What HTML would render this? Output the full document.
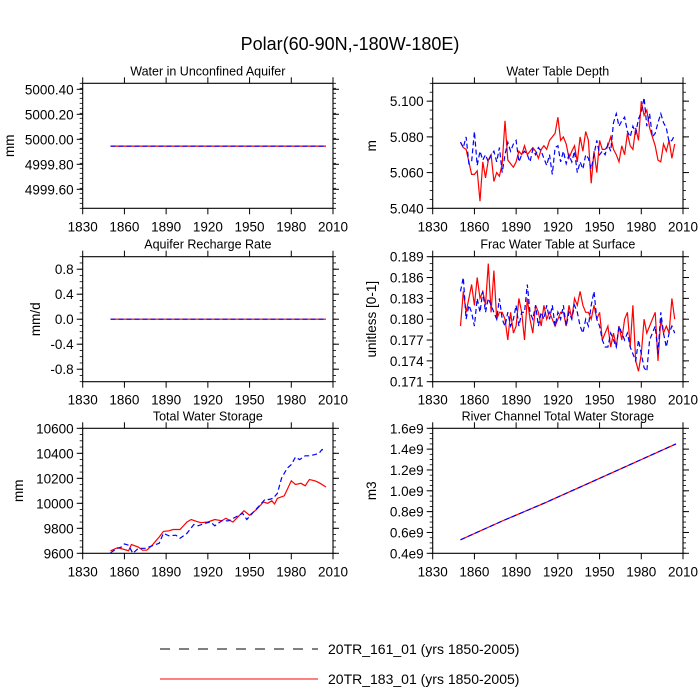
<!DOCTYPE html>
<html><head><meta charset="utf-8"><style>
body{margin:0;background:#fff}
svg{display:block;font-family:"Liberation Sans",sans-serif}
</style></head><body>
<svg id="c" width="700" height="700">
<text x="350" y="50" text-anchor="middle" font-size="18">Polar(60-90N,-180W-180E)</text>
<g>
<line x1="160" y1="649" x2="318" y2="649" stroke="#000" stroke-width="1" stroke-dasharray="10,9"/>
<text x="328" y="654" font-size="14">20TR_161_01 (yrs 1850-2005)</text>
<line x1="160" y1="679" x2="318" y2="679" stroke="#f00" stroke-width="1"/>
<text x="328" y="684" font-size="14">20TR_183_01 (yrs 1850-2005)</text>
</g>
</svg>
<script>
const yrs2 = [];for(let y=1850;y<=2004;y+=2)yrs2.push(y);
const xTicks=[1830,1860,1890,1920,1950,1980,2010];
const aquiferYears=[1850,2005];
const aquiferRed=[4999.946,4999.946];
const aquiferBlue=[4999.946,4999.946];
const rechargeYears=[1850,2005];
const rechargeRed=[0,0];
const rechargeBlue=[0,0];
const wtdRed=[5.077,5.074,5.073,5.066,5.059,5.059,5.061,5.044,5.066,5.057,5.067,5.070,5.055,5.060,5.058,5.065,5.089,5.067,5.065,5.063,5.066,5.072,5.070,5.075,5.070,5.072,5.074,5.072,5.068,5.073,5.075,5.073,5.078,5.080,5.082,5.091,5.078,5.080,5.076,5.068,5.072,5.075,5.066,5.080,5.072,5.083,5.078,5.054,5.072,5.060,5.078,5.073,5.073,5.075,5.080,5.073,5.070,5.066,5.075,5.070,5.082,5.075,5.073,5.085,5.078,5.100,5.092,5.095,5.085,5.080,5.075,5.067,5.066,5.076,5.072,5.078,5.068,5.076];
const wtdBlue=[5.077,5.074,5.080,5.065,5.066,5.083,5.064,5.072,5.067,5.070,5.066,5.070,5.072,5.066,5.074,5.060,5.070,5.077,5.072,5.076,5.078,5.066,5.070,5.072,5.070,5.066,5.073,5.070,5.074,5.072,5.068,5.064,5.070,5.059,5.074,5.075,5.066,5.072,5.065,5.070,5.066,5.072,5.060,5.066,5.062,5.070,5.068,5.062,5.070,5.078,5.070,5.072,5.070,5.076,5.072,5.088,5.093,5.086,5.089,5.091,5.083,5.080,5.086,5.082,5.090,5.094,5.102,5.086,5.093,5.080,5.082,5.088,5.093,5.088,5.085,5.077,5.078,5.081];
const fracRed=[.179,.184,.181,.183,.185,.182,.186,.183,.184,.182,.188,.181,.187,.180,.181,.181,.180,.177,.181,.178,.179,.183,.181,.177,.183,.180,.178,.182,.181,.179,.182,.180,.181,.180,.179,.180,.181,.181,.179,.182,.180,.183,.182,.184,.182,.181,.181,.180,.182,.180,.181,.177,.178,.179,.176,.178,.176,.179,.177,.180,.181,.176,.182,.174,.1725,.175,.180,.178,.179,.180,.181,.174,.180,.178,.179,.178,.183,.180];
const fracBlue=[.184,.186,.180,.182,.181,.179,.183,.181,.184,.181,.183,.182,.181,.180,.183,.180,.179,.181,.179,.180,.182,.179,.181,.181,.185,.181,.180,.182,.179,.181,.180,.182,.180,.182,.179,.181,.180,.182,.179,.181,.180,.182,.181,.179,.178,.180,.179,.182,.184,.180,.179,.177,.176,.176,.178,.177,.176,.179,.178,.177,.178,.176,.175,.174,.177,.175,.173,.1725,.177,.178,.179,.175,.181,.178,.176,.178,.179,.178];
const twsRedYears=[1850,1855,1860,1863,1865,1870,1873,1876,1880,1885,1888,1892,1895,1900,1905,1908,1912,1915,1920,1925,1930,1933,1938,1942,1946,1950,1955,1960,1963,1966,1968,1970,1975,1980,1983,1987,1990,1993,1997,2000,2005];
const twsRed=[9620,9645,9630,9620,9670,9650,9625,9625,9665,9730,9775,9780,9790,9790,9850,9870,9855,9845,9850,9870,9860,9880,9850,9895,9940,9905,9950,10010,10000,10020,9995,10040,10060,10180,10150,10160,10140,10190,10180,10165,10130];
const twsBlueYears=[1850,1855,1858,1860,1863,1866,1870,1875,1880,1885,1888,1892,1897,1900,1905,1910,1913,1918,1922,1925,1930,1935,1940,1945,1948,1952,1957,1961,1964,1967,1970,1973,1977,1980,1983,1986,1990,1993,1997,2000,2002,2005];
const twsBlue=[9605,9640,9650,9675,9665,9600,9640,9640,9660,9680,9760,9740,9745,9720,9760,9830,9820,9840,9850,9820,9860,9860,9890,9920,9870,9920,9980,10030,10030,10040,10080,10200,10280,10310,10370,10350,10380,10380,10390,10400,10430,10425];
const riverYears=[1850,1880,1910,1940,1970,2005];
const riverRed=[0.53,0.71,0.88,1.06,1.24,1.45];
const riverBlue=[0.53,0.71,0.88,1.06,1.24,1.45];

const svg=document.getElementById('c');
const NS='http://www.w3.org/2000/svg';
function mk(tag,at,parent){const e=document.createElementNS(NS,tag);for(const k in at)e.setAttribute(k,at[k]);parent.appendChild(e);return e;}

function panel(p){
  const g=mk('g',{},svg);
  
  
  const L=p.x,R=p.x+250.3,T=p.y,B=p.y+125;
  const sx=v=>L+(v-1830)/180*(R-L);
  const sy=v=>B-(v-p.ymin)/(p.ymax-p.ymin)*(B-T);
  const t=mk('text',{x:(L+R)/2,y:T-8,'text-anchor':'middle','font-size':12.5},g);t.textContent=p.title;
  
  
  // minor y ticks
  for(let v=p.ymin;v<=p.ymax+1e-9;v+=p.minor){const y=sy(v);
    mk('line',{x1:L-3,x2:L,y1:y,y2:y,stroke:'#000','stroke-width':0.8},g);
    mk('line',{x1:R,x2:R+3,y1:y,y2:y,stroke:'#000','stroke-width':0.8},g);}
  p.yt.forEach((v,i)=>{const y=sy(v);
    mk('line',{x1:L-6,x2:L,y1:y,y2:y,stroke:'#000','stroke-width':1},g);
    mk('line',{x1:R,x2:R+6,y1:y,y2:y,stroke:'#000','stroke-width':1},g);
    const tx=mk('text',{x:L-9,y:y+5,'text-anchor':'end','font-size':13.5},g);tx.textContent=p.yl[i];
    
    });
  xTicks.forEach(v=>{const x=sx(v);
    mk('line',{x1:x,x2:x,y1:B,y2:B+6,stroke:'#000','stroke-width':1},g);
    mk('line',{x1:x,x2:x,y1:T-6,y2:T,stroke:'#000','stroke-width':1},g);
    const tx=mk('text',{x:x,y:B+23,'text-anchor':'middle','font-size':13.5},g);tx.textContent=v;
    
    });
  const yl=mk('text',{transform:`translate(${p.lx},${(T+B)/2}) rotate(-90)`,'text-anchor':'middle','font-size':13.5},g);yl.textContent=p.ylabel;
  
  
  const cp='cp'+p.name;const d=mk('clipPath',{id:cp},g);mk('rect',{x:L,y:T,width:R-L,height:B-T},d);
  const line=(xs,ys,col,dash,nm)=>{const pl=mk('polyline',{points:xs.map((x,i)=>sx(x).toFixed(1)+','+sy(ys[i]).toFixed(1)).join(' '),fill:'none',stroke:col,'stroke-width':1.2,'stroke-dasharray':dash,'clip-path':`url(#${cp})`},g);
    
    };
  line(p.rx,p.r,'#f00','none','series-183-red');
  line(p.bx,p.b,'#00f','5,3','series-161-blue');
  mk('rect',{x:L,y:T,width:R-L,height:B-T,fill:'none',stroke:'#000','stroke-width':1.1},g);
}
panel({name:'panel-aquifer',title:'Water in Unconfined Aquifer',x:82.7,y:83.3,ymin:4999.448,ymax:5000.448,minor:0.04,yt:[4999.6,4999.8,5000,5000.2,5000.4],yl:['4999.60','4999.80','5000.00','5000.20','5000.40'],ylabel:'mm',lx:14,rx:aquiferYears,r:aquiferRed,bx:aquiferYears,b:aquiferBlue});
panel({name:'panel-water-table-depth',title:'Water Table Depth',x:432.7,y:83.3,ymin:5.040,ymax:5.110,minor:0.005,yt:[5.04,5.06,5.08,5.1],yl:['5.040','5.060','5.080','5.100'],ylabel:'m',lx:376,rx:yrs2,r:wtdRed,bx:yrs2,b:wtdBlue});
panel({name:'panel-recharge',title:'Aquifer Recharge Rate',x:82.7,y:256.7,ymin:-1,ymax:1,minor:0.1,yt:[-0.8,-0.4,0,0.4,0.8],yl:['-0.8','-0.4','0.0','0.4','0.8'],ylabel:'mm/d',lx:40,rx:rechargeYears,r:rechargeRed,bx:rechargeYears,b:rechargeBlue});
panel({name:'panel-frac-water-table',title:'Frac Water Table at Surface',x:432.7,y:256.7,ymin:0.171,ymax:0.189,minor:0.001,yt:[.171,.174,.177,.18,.183,.186,.189],yl:['0.171','0.174','0.177','0.180','0.183','0.186','0.189'],ylabel:'unitless [0-1]',lx:376,rx:yrs2,r:fracRed,bx:yrs2,b:fracBlue});
panel({name:'panel-total-water-storage',title:'Total Water Storage',x:82.7,y:428.3,ymin:9600,ymax:10600,minor:50,yt:[9600,9800,10000,10200,10400,10600],yl:['9600','9800','10000','10200','10400','10600'],ylabel:'mm',lx:23,rx:twsRedYears,r:twsRed,bx:twsBlueYears,b:twsBlue});
panel({name:'panel-river-storage',title:'River Channel Total Water Storage',x:432.7,y:428.3,ymin:0.4,ymax:1.6,minor:0.05,yt:[0.4,0.6,0.8,1.0,1.2,1.4,1.6],yl:['0.4e9','0.6e9','0.8e9','1.0e9','1.2e9','1.4e9','1.6e9'],ylabel:'m3',lx:376,rx:riverYears,r:riverRed,bx:riverYears,b:riverBlue});
</script>
</body></html>
